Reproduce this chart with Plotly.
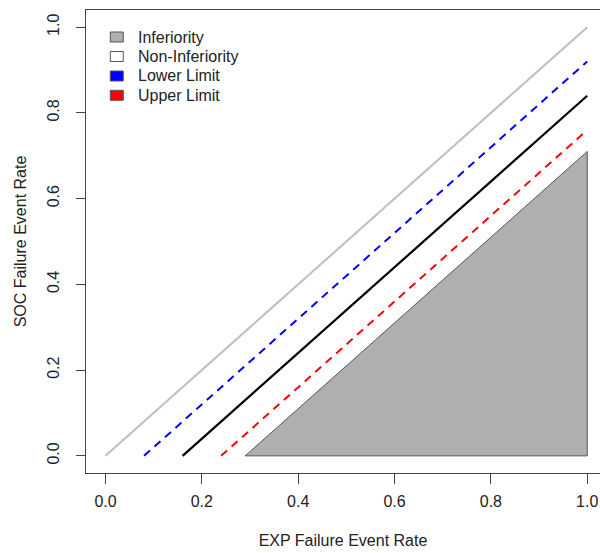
import plotly.graph_objects as go

# ---- data ----
ref_x = [0.0, 1.0]
ref_y = [0.0, 1.0]
lower_x = [0.08, 1.0]
lower_y = [0.0, 0.92]
margin_x = [0.16, 1.0]
margin_y = [0.0, 0.84]
upper_x = [0.24, 1.0]
upper_y = [0.0, 0.76]
inf_x = [0.29, 1.0, 1.0, 0.29]
inf_y = [0.0, 0.0, 0.71, 0.0]
tick_vals = [0.0, 0.2, 0.4, 0.6, 0.8, 1.0]
tick_text = ["0.0", "0.2", "0.4", "0.6", "0.8", "1.0"]
legend_labels = ["Inferiority", "Non-Inferiority", "Lower Limit", "Upper Limit"]
legend_colors = ["#AFAFAF", "#FFFFFF", "#0000FF", "#FF0000"]

FONT = "Liberation Sans, Arial, sans-serif"
AX = "#444444"
FS = 16

fig = go.Figure()
fig.add_trace(go.Scatter(x=inf_x, y=inf_y, mode="lines", fill="toself",
                         fillcolor="#AFAFAF", line=dict(color="#555555", width=1),
                         showlegend=False, hoverinfo="skip"))
fig.add_trace(go.Scatter(x=ref_x, y=ref_y, mode="lines",
                         line=dict(color="#BEBEBE", width=2), showlegend=False))
fig.add_trace(go.Scatter(x=lower_x, y=lower_y, mode="lines",
                         line=dict(color="#0000FF", width=2, dash="8px,6px"), showlegend=False))
fig.add_trace(go.Scatter(x=margin_x, y=margin_y, mode="lines",
                         line=dict(color="#000000", width=2.2), showlegend=False))
fig.add_trace(go.Scatter(x=upper_x, y=upper_y, mode="lines",
                         line=dict(color="#FF0000", width=2, dash="8px,6px"), showlegend=False))

# legend (R-style, boxes + text) in paper coords
W, H = 600, 553
ml, mr, mt, mb = 85.7, 0, 10, 80
pw, ph = W - ml - mr, H - mt - mb
def px_x(p):
    return (p - ml) / pw
def px_y(p):
    return 1 - (p - mt) / ph

row_y = [37, 56.5, 76, 95.3]
shapes = []
annotations = []
for lab, col, yc in zip(legend_labels, legend_colors, row_y):
    shapes.append(dict(type="rect", xref="paper", yref="paper",
                       x0=px_x(110), x1=px_x(123), y0=px_y(yc + 5), y1=px_y(yc - 5),
                       fillcolor=col, line=dict(color="#555555", width=1)))
    annotations.append(dict(text=lab, xref="paper", yref="paper",
                            x=px_x(136), y=px_y(yc), xanchor="left", yanchor="middle",
                            showarrow=False, font=dict(family=FONT, size=FS, color="#222222")))

fig.update_layout(
    width=W, height=H,
    margin=dict(l=ml, r=mr, t=mt, b=mb, pad=0),
    paper_bgcolor="white", plot_bgcolor="white",
    font=dict(family=FONT, size=FS, color="#222222"),
    shapes=shapes, annotations=annotations,
    showlegend=False,
    xaxis=dict(range=[-0.0405, 1.0265], tickvals=tick_vals, ticktext=tick_text,
               showgrid=False, zeroline=False, showline=True, mirror=True,
               linecolor=AX, linewidth=1, ticks="outside", ticklen=10,
               tickcolor=AX, ticklabelstandoff=4,
               title=dict(text="EXP Failure Event Rate", standoff=25,
                          font=dict(family=FONT, size=FS))),
    yaxis=dict(range=[-0.04, 1.04], tickvals=tick_vals, ticktext=tick_text,
               showgrid=False, zeroline=False, showline=True, mirror=True,
               linecolor=AX, linewidth=1, ticks="outside", ticklen=9,
               tickcolor=AX, tickangle=-90, ticklabelstandoff=11,
               title=dict(text="SOC Failure Event Rate", standoff=13,
                          font=dict(family=FONT, size=FS))),
)

fig.write_html("out.html")
